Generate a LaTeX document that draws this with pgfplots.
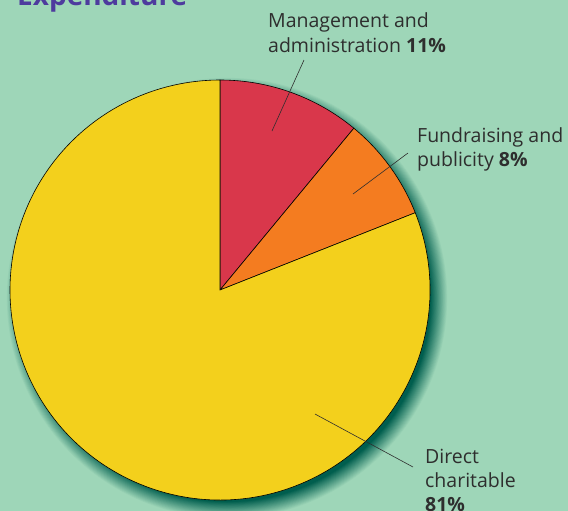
\documentclass[border=0pt]{standalone}
\usepackage{pgfplots}
\pgfplotsset{compat=1.18}
\usepackage{pgfplotstable}
\usepackage{fontspec}
\setmainfont{Open Sans}
\definecolor{bgc}{HTML}{9ED6B8}
\definecolor{shadowc}{HTML}{005E4E}
\definecolor{mgmt}{HTML}{D9374B}
\definecolor{fund}{HTML}{F47C20}
\definecolor{direct}{HTML}{F3D01C}
\definecolor{titlec}{HTML}{4E3B9E}
\definecolor{txt}{HTML}{2E2E2E}
\pgfplotstableread{
label value
Management 11
Fundraising 8
Direct 81
}\expdata
\pgfplotstablegetelem{0}{value}\of\expdata \let\vA\pgfplotsretval
\pgfplotstablegetelem{1}{value}\of\expdata \let\vB\pgfplotsretval
\pgfplotstablegetelem{2}{value}\of\expdata \let\vC\pgfplotsretval
\pgfmathsetmacro\aA{90-3.6*\vA}
\pgfmathsetmacro\aB{\aA-3.6*\vB}
\pgfmathsetmacro\aC{\aB-3.6*\vC}
\begin{document}
\begin{tikzpicture}
\begin{axis}[
  x=1bp, y=1bp, y dir=reverse,
  xmin=0, xmax=568, ymin=0, ymax=511,
  axis lines=none,
  axis background/.style={fill=bgc},
  clip=false,
]
% soft shadow
\pgfplotsinvokeforeach{0,5,10,15,20,25,30,35,40,45,50,55,60,65,70,75,80,85,90,95,100}{
  \fill[shadowc!#1!bgc] (axis cs:227,298) circle[radius={(221-0.17*#1)*1bp}];
}
\filldraw[fill=mgmt, draw=black, line width=0.6pt] (axis cs:220,290) -- ++(90:210bp) arc[start angle=90, end angle=\aA, radius=210bp] -- cycle;
\filldraw[fill=fund, draw=black, line width=0.6pt] (axis cs:220,290) -- ++(\aA:210bp) arc[start angle=\aA, end angle=\aB, radius=210bp] -- cycle;
\filldraw[fill=direct, draw=black, line width=0.6pt] (axis cs:220,290) -- ++(\aB:210bp) arc[start angle=\aB, end angle=\aC, radius=210bp] -- cycle;
% leader lines
\draw[txt, line width=0.6pt] (axis cs:304,60) -- (axis cs:272,131);
\draw[txt, line width=0.6pt] (axis cs:408,153) -- (axis cs:353,194);
\draw[txt, line width=0.6pt] (axis cs:315,414) -- (axis cs:413,467);
% labels
\node[anchor=base west, inner sep=0pt, align=left, text=txt, font={\fontsize{19.5bp}{25bp}\selectfont}] at (axis cs:268,52) {Management and\\administration \textbf{11\%}};
\node[anchor=base west, inner sep=0pt, align=left, text=txt, font={\fontsize{19.5bp}{24bp}\selectfont}] at (axis cs:417,166) {Fundraising and\\publicity \textbf{8\%}};
\node[anchor=base west, inner sep=0pt, align=left, text=txt, font={\fontsize{19.5bp}{24bp}\selectfont}] at (axis cs:425,511) {Direct\\charitable\\\textbf{81\%}};
\node[anchor=base west, inner sep=0pt, text=titlec, font={\fontsize{28bp}{30bp}\selectfont\bfseries}] at (axis cs:17,5) {Expenditure};
\end{axis}
\pgfresetboundingbox
\path[use as bounding box] (0,0) rectangle (568bp,511bp);
\end{tikzpicture}
\end{document}
